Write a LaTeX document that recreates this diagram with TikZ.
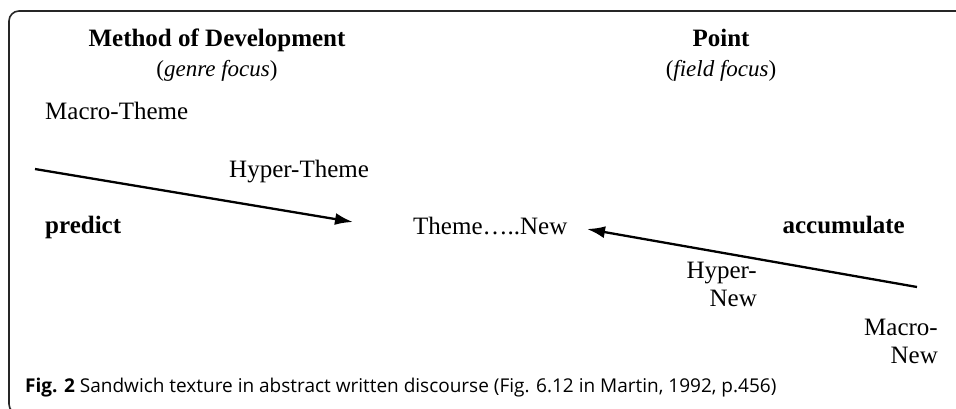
\documentclass[tikz,border=0pt]{standalone}
\usepackage{fontspec}
\setmainfont{Liberation Serif}
\newfontfamily\capfont{Open Sans}
\usetikzlibrary{arrows.meta}
\begin{document}
\begin{tikzpicture}[x=1pt,y=-1pt,
  lbl/.style={inner sep=0pt,font=\fontsize{25}{28}\selectfont},
  hdr/.style={inner sep=0pt,font=\fontsize{25}{28}\selectfont\bfseries},
  sub/.style={inner sep=0pt,font=\fontsize{23}{26}\selectfont},
  arr/.style={line width=2.3pt,-{Latex[length=18pt,width=12pt]}},
  frame/.style={line width=1.6pt,draw=black!85}]
\useasboundingbox (0,0) rectangle (956,408);
\clip (0,0) rectangle (956,408);
\draw[frame,rounded corners=10pt] (970,11) -- (9,11) -- (9,414) -- (40,414);
\node[hdr,anchor=base] (mod) at (217,46) {Method of Development};
\node[sub,anchor=base] (genre) at (217,76) {(\textit{genre focus})};
\node[hdr,anchor=base] (point) at (721,46) {Point};
\node[sub,anchor=base] (field) at (721,76) {(\textit{field focus})};
\node[lbl,anchor=base west] (mtheme) at (45,119) {Macro-Theme};
\node[lbl,anchor=base west] (htheme) at (229,177) {Hyper-Theme};
\node[hdr,anchor=base west] (predict) at (45,233) {predict};
\node[lbl,anchor=base west] (tn) at (413,234) {Theme\ldots..New};
\node[hdr,anchor=base east] (accum) at (905,233) {accumulate};
\node[lbl,anchor=base east] (hnew1) at (757,278) {Hyper-};
\node[lbl,anchor=base east] (hnew2) at (757,306) {New};
\node[lbl,anchor=base east] (mnew1) at (938,335) {Macro-};
\node[lbl,anchor=base east] (mnew2) at (938,363) {New};
\coordinate (la) at (35,169);
\coordinate (lb) at (353,222);
\coordinate (ra) at (917,287);
\coordinate (rb) at (587,229);
\draw[arr] (la) -- (lb);
\draw[arr] (ra) -- (rb);
\node[inner sep=0pt,anchor=base west,font=\capfont\fontsize{19}{21}\selectfont] (cap) at (25,392)
  {\textbf{Fig. 2} Sandwich texture in abstract written discourse (Fig. 6.12 in Martin, 1992, p.456)};
\end{tikzpicture}
\end{document}
